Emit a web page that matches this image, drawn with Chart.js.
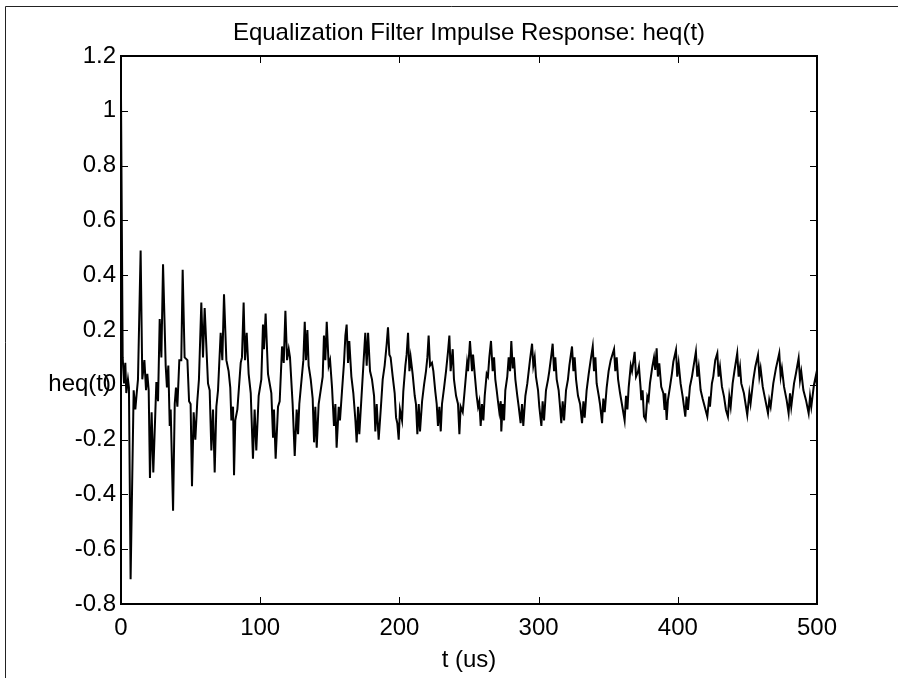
<!DOCTYPE html>
<html>
<head>
<meta charset="utf-8">
<script src="https://cdn.jsdelivr.net/npm/chart.js@4.4.1/dist/chart.umd.min.js"></script>
<style>
  html, body { margin: 0; padding: 0; background: #fff; }
  #wrap { width: 898px; height: 678px; position: relative; }
</style>
</head>
<body>
<div id="wrap"><canvas id="c" width="898" height="678"></canvas></div>
<script>
// ---- Data: [time (us), heq(t)] ----
const seg1 = [
  [0,1.05],[1.2,0.10],[2.2,0.005],[3.1,0.08],[3.8,-0.03],[5.0,0.02],[5.7,-0.01],[6.9,-0.71],
  [9.1,-0.02],[10.3,-0.09],[11.3,-0.03],[12.2,0.02],[14.1,0.49],[15.3,0.02],[16.8,0.09],
  [18.0,-0.02],[18.9,0.04],[19.9,-0.02],[20.8,-0.34],[22.0,-0.10],[23.2,-0.32],[25.4,0.01],
  [26.6,-0.06],[27.8,0.24],[29.0,0.10],[30.2,0.44],[32.1,0.07],[33.0,-0.01],[34.0,0.07],
  [35.0,-0.15],[35.7,-0.09],[37.4,-0.46],[38.6,-0.07],[39.5,-0.01],[40.5,-0.08],[41.9,0.09],
  [43.3,0.09],[44.3,0.42],[45.7,0.10],[47.7,0.09],[48.9,-0.06],[50.0,-0.07],[51.0,-0.37],
  [52.2,-0.10],[53.4,-0.20],[54.8,-0.06],[56.0,0.02],[57.7,0.30],[58.9,0.10],[60.1,0.28],
  [62.5,0.005],[63.7,-0.02],[64.9,-0.24],[66.1,-0.09],[67.3,-0.32],[68.5,-0.08],[69.7,-0.02],
  [71.6,0.19],[72.8,0.09],[74.0,0.33],[75.7,0.09],[77.3,0.05],[78.5,-0.01],[79.3,-0.13],
  [80.5,-0.08],[81.2,-0.33],[82.1,-0.13],[83.6,-0.09],[86.0,0.08],[86.9,0.10],[88.1,0.30],
  [89.1,0.09],[90.3,0.19],[91.7,0.04],[93.2,-0.03],[94.8,-0.27],[96.0,-0.09],[97.2,-0.24],
  [98.9,-0.04],[100.8,0.02],[102.0,0.22],[102.7,0.13],[103.9,0.26],[105.6,0.04],[108.0,-0.03],
  [109.2,-0.19],[109.9,-0.09],[111.1,-0.27],[112.8,-0.08],[114.0,-0.06],[115.7,0.14],
  [116.9,0.08],[118.1,0.27],[119.3,0.09],[120.5,0.13]
];
const seg2 = [
  [121.4,0.10],[123.3,-0.07],[124.8,-0.26],[126.2,-0.09],[127.2,-0.18],[128.1,-0.07],
  [131.0,0.09],[132.0,0.23],[132.9,0.09],[133.9,0.20],[134.8,0.07],[136.3,0.02],[137.7,-0.05],
  [138.7,-0.21],[139.6,-0.08],[140.6,-0.23],[142.0,-0.07],[144.9,0.03],[145.8,0.18],
  [146.8,0.09],[147.8,0.23],[149.2,0.07],[150.2,0.09],[151.6,-0.01],[153.0,-0.15],
  [154.0,-0.07],[154.9,-0.23],[156.4,-0.08],[157.3,-0.13],[158.8,-0.02],[160.2,0.08],
  [161.2,0.18],[162.1,0.22],[163.1,0.08],[164.0,0.16],[165.5,0.03],[166.9,-0.03],
  [168.4,-0.13],[169.3,-0.21],[170.3,-0.08],[171.2,-0.18],[172.7,-0.05],[174.1,0.07],
  [175.5,0.19],[176.5,0.07],[177.5,0.19],[178.9,0.05],[180.3,0.02],[181.8,-0.04],
  [182.7,-0.17],[183.7,-0.07],[185.1,-0.20],[186.6,-0.09],[188.0,0.02],[189.4,0.07],
  [190.9,0.15],[191.8,0.21],[192.8,0.11],[193.7,0.10],[195.2,0.03],[196.6,-0.03],
  [197.6,-0.12],[198.5,-0.14],[199.5,-0.20],[200.4,-0.09],[201.9,-0.13],[202.8,-0.025],
  [204.3,0.07],[205.2,0.11],[206.2,0.19],[207.2,0.05],[208.1,0.10],[209.5,0.04],
  [211.0,-0.04],[211.9,-0.07],[212.9,-0.18],[213.9,-0.07],[214.8,-0.17],[216.3,-0.06],
  [217.7,0.0],[219.1,0.05],[220.1,0.10],[221.0,0.18],[222.0,0.07],[223.4,0.08],[224.4,0.05],
  [225.8,-0.025],[226.8,-0.07],[227.7,-0.15],[228.7,-0.08],[229.7,-0.17],[230.6,-0.07],
  [232.1,-0.01],[233.5,0.05],[234.9,0.12],[235.9,0.18],[236.8,0.05],[238.3,0.13],
  [239.2,0.02],[240.7,-0.04],[242.1,-0.07],[243.1,-0.18],[244.0,-0.08],[245.5,-0.10]
];
const seg3 = [
  [246.9,-0.02],[248.6,0.08],[249.3,0.05],[250.7,0.16],[252.2,0.05],[252.9,0.11],[254.1,0.04],
  [255.5,-0.04],[256.5,-0.08],[257.4,-0.06],[258.4,-0.15],[259.3,-0.07],[260.3,-0.13],
  [261.3,-0.04],[262.7,0.04],[263.6,0.03],[264.6,0.10],[265.8,0.16],[267.0,0.05],[268.0,0.10],
  [268.9,0.02],[269.9,-0.02],[270.8,-0.06],[271.8,-0.10],[272.8,-0.06],[273.2,-0.17],
  [274.2,-0.07],[275.2,-0.13],[276.1,-0.02],[277.5,0.03],[278.5,0.10],[279.5,0.05],
  [280.4,0.16],[281.4,0.06],[282.3,0.10],[283.3,0.02],[284.7,-0.04],[285.7,-0.08],
  [287.1,-0.14],[288.1,-0.07],[289.0,-0.15],[290.5,-0.04],[291.9,0.005],[292.9,0.05],
  [293.8,0.09],[295.3,0.15],[296.2,0.07],[297.2,0.10],[298.1,0.03],[299.6,-0.02],
  [300.5,-0.08],[302.0,-0.15],[302.9,-0.06],[303.9,-0.13],[305.3,-0.02],[306.8,0.02],
  [307.7,0.05],[309.2,0.11],[310.1,0.15],[311.1,0.05],[312.0,0.10],[313.0,0.02],
  [314.4,-0.02],[315.4,-0.08],[316.3,-0.14],[317.3,-0.06],[318.3,-0.13],[319.7,-0.02],
  [321.1,0.02],[322.1,0.07],[324.0,0.14],[325.0,0.05],[325.9,0.10],[326.9,0.02],
  [328.3,-0.04],[329.8,-0.07],[331.2,-0.14],[332.2,-0.06],[333.1,-0.12],[334.5,-0.02],
  [336.0,0.04],[337.4,0.09],[338.9,0.14],[339.8,0.05],[340.8,0.10],[341.7,0.005],
  [343.2,-0.04],[344.1,-0.07],[345.6,-0.14],[346.5,-0.05],[347.5,-0.10],[348.9,-0.01],
  [350.3,0.05],[351.8,0.09],[354.2,0.13],[355.1,0.05],[356.1,0.10],[357.1,0.02],
  [358.5,-0.03],[359.5,-0.06],[361.8,-0.13],[362.8,-0.04],[363.8,-0.09],[364.7,-0.01],
  [366.2,0.07],[367.1,0.05],[369.0,0.12],[370.0,0.03]
];
const seg4 = [
  [371.4,0.048],[372.1,0.066],[373.3,-0.013],[373.8,-0.056],[374.7,-0.02],[375.7,-0.116],
  [376.9,-0.128],[378.1,-0.043],[379.0,-0.056],[380.0,0.005],[381.7,0.066],[382.9,0.10],
  [383.8,0.054],[384.8,0.133],[385.7,0.03],[386.7,0.078],[388.1,-0.007],[389.6,-0.031],
  [390.5,-0.092],[391.0,-0.031],[392.0,-0.128],[392.9,-0.056],[394.4,-0.007],[395.8,0.042],
  [396.8,0.084],[398.7,0.127],[399.6,0.03],[400.6,0.078],[402.0,0.005],[403.5,-0.043],
  [405.4,-0.116],[406.3,-0.043],[407.3,-0.092],[408.7,-0.007],[410.2,0.03],[411.1,0.06],
  [413.0,0.121],[414.0,0.03],[415.0,0.066],[416.4,-0.019],[417.8,-0.05],[421.2,-0.116],
  [422.6,-0.043],[423.1,-0.08],[424.5,0.005],[425.5,0.03],[426.9,0.09],[428.4,0.115],
  [429.3,0.03],[430.3,0.066],[431.7,-0.007],[433.2,-0.043],[434.6,-0.092],[436.0,-0.116],
  [437.0,-0.043],[438.0,-0.08],[439.4,0.005],[440.8,0.054],[442.7,0.115],[443.7,0.03],
  [444.7,0.066],[445.6,0.005],[447.5,-0.031],[449.9,-0.11],[451.4,-0.031],[452.3,-0.068],
  [454.2,0.017],[455.7,0.066],[457.6,0.109],[458.6,0.03],[459.5,0.06],[461.0,-0.007],
  [462.4,-0.043],[464.8,-0.104],[465.7,-0.056],[466.7,-0.08],[468.6,0.005],[470.5,0.06],
  [472.9,0.115],[473.9,0.03],[474.8,0.06],[476.3,-0.007],[478.2,-0.056],[479.6,-0.104],
  [480.6,-0.031],[481.5,-0.08],[483.5,0.005],[484.9,0.042],[486.8,0.097],[487.8,0.017],
  [488.7,0.048],[490.2,-0.019],[492.1,-0.056],[494.0,-0.104],[495.0,-0.043],[495.9,-0.08],
  [497.8,0.0],[499.3,0.036],[500.0,-0.007]
];
const xTicks = [0, 100, 200, 300, 400, 500];
const yTicks = [-0.8, -0.6, -0.4, -0.2, 0, 0.2, 0.4, 0.6, 0.8, 1, 1.2];
const titleText = 'Equalization Filter Impulse Response: heq(t)';
const xLabelText = 't (us)';
const yLabelText = 'heq(t)';

const FONT = '"Liberation Sans", Arial, Helvetica, sans-serif';
const FS = 24;

const points = [].concat(seg1, seg2, seg3, seg4).map(p => ({ x: p[0], y: p[1] }));

const matlabAxes = {
  id: 'matlabAxes',
  afterDatasetsDraw(chart) {
    const { ctx, chartArea: a, scales } = chart;
    const xs = scales.x, ys = scales.y;
    const TL = 7;
    ctx.save();
    // outer figure frame (left & top edges visible)
    ctx.strokeStyle = '#222';
    ctx.lineWidth = 1;
    ctx.beginPath();
    ctx.moveTo(5.5, 678); ctx.lineTo(5.5, 6.5); ctx.lineTo(898, 6.5);
    ctx.stroke();
    // axes box
    ctx.strokeStyle = '#000';
    ctx.lineWidth = 2;
    ctx.strokeRect(a.left, a.top, a.right - a.left, a.bottom - a.top);
    // inward ticks
    ctx.lineWidth = 1;
    ctx.beginPath();
    xTicks.forEach(v => {
      const px = Math.round(xs.getPixelForValue(v)) + 0.5;
      ctx.moveTo(px, a.bottom); ctx.lineTo(px, a.bottom - TL);
      ctx.moveTo(px, a.top); ctx.lineTo(px, a.top + TL);
    });
    yTicks.forEach(v => {
      const py = Math.round(ys.getPixelForValue(v)) + 0.5;
      ctx.moveTo(a.left, py); ctx.lineTo(a.left + TL, py);
      ctx.moveTo(a.right, py); ctx.lineTo(a.right - TL, py);
    });
    ctx.stroke();
    // texts
    ctx.fillStyle = '#000';
    ctx.font = FS + 'px ' + FONT;
    ctx.textAlign = 'center';
    ctx.textBaseline = 'middle';
    const cx = (a.left + a.right) / 2;
    ctx.fillText(titleText, cx, a.top - 23);
    ctx.fillText(xLabelText, cx, a.bottom + 56);
    ctx.textAlign = 'right';
    ctx.fillText(yLabelText, a.left - 10, ys.getPixelForValue(0));
    ctx.restore();
  }
};

new Chart(document.getElementById('c'), {
  type: 'line',
  data: {
    datasets: [{
      data: points,
      borderColor: '#000',
      borderWidth: 2,
      pointRadius: 0,
      tension: 0,
      fill: false
    }]
  },
  options: {
    responsive: false,
    animation: false,
    events: [],
    layout: { padding: { left: 0, top: 56, right: 81, bottom: 0 } },
    plugins: { legend: { display: false }, title: { display: false }, tooltip: { enabled: false } },
    scales: {
      x: {
        type: 'linear', min: 0, max: 500,
        afterBuildTicks(s) { s.ticks = xTicks.map(v => ({ value: v })); },
        afterFit(s) { s.height = 74; },
        grid: { display: false, drawTicks: false },
        border: { display: false },
        ticks: { color: '#000', font: { family: FONT, size: FS }, padding: 10, maxRotation: 0,
                 callback: v => String(v) }
      },
      y: {
        type: 'linear', min: -0.8, max: 1.2,
        afterBuildTicks(s) { s.ticks = yTicks.map(v => ({ value: v })); },
        afterFit(s) { s.width = 121; },
        grid: { display: false, drawTicks: false },
        border: { display: false },
        ticks: { color: '#000', font: { family: FONT, size: FS }, padding: 5,
                 callback: v => String(Number(v.toFixed(1))) }
      }
    }
  },
  plugins: [matlabAxes]
});
</script>
</body>
</html>
